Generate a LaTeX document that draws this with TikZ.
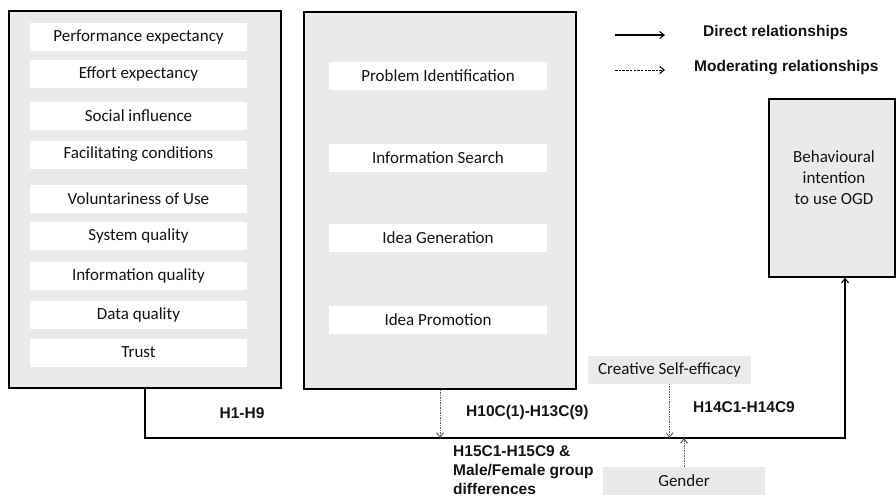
\documentclass[tikz,border=0pt]{standalone}
\usepackage{fontspec}
\setmainfont{Carlito}
\newfontfamily\arialb{Liberation Sans}[BoldFont={* Bold}]
\usetikzlibrary{arrows.meta}
\definecolor{boxgray}{HTML}{EAEAEA}
\definecolor{txt}{HTML}{141418}
\definecolor{dotc}{HTML}{606060}
\begin{document}
\begin{tikzpicture}[x=1pt,y=-1pt,
  >={Straight Barb[length=4.5pt,width=7pt]},
  outer/.style={draw=black,line width=1.1pt,fill=boxgray,minimum width=272pt,minimum height=377pt,inner sep=0pt},
  lbox/.style={fill=white,minimum width=217pt,minimum height=28pt,inner sep=0pt,text=txt,font=\fontsize{17}{20}\selectfont},
  gbox/.style={fill=boxgray,minimum height=28pt,inner sep=0pt,text=txt,font=\fontsize{17}{20}\selectfont},
  hlab/.style={font=\arialb\bfseries\fontsize{15.5}{19}\selectfont,inner sep=0pt,text=txt},
  direct/.style={line width=1.1pt,->},
  moder/.style={dotc,line width=1pt,dash pattern=on 1.5pt off 1pt,->}
]
\useasboundingbox (0,0) rectangle (896,498);
% legend
\coordinate (l1a) at (615,35); \coordinate (l1b) at (665,35);
\coordinate (l2a) at (615,70); \coordinate (l2b) at (665,70);
\draw[direct] (l1a) -- (l1b);
\draw[line width=1pt,dash pattern=on 2.5pt off 1.2pt,->] (l2a) -- (l2b);
\node[hlab,anchor=west] (leg1) at (703,32) {Direct relationships};
\node[hlab,anchor=west] (leg2) at (694,68) {Moderating relationships};
% left box
\node[outer] (lb) at (145,199.5) {};
\node[lbox] (a1) at (138.5,37) {Performance expectancy};
\node[lbox] (a2) at (138.5,73.5) {Effort expectancy};
\node[lbox] (a3) at (138.5,115.5) {Social influence};
\node[lbox] (a4) at (138.5,154.5) {Facilitating conditions};
\node[lbox] (a5) at (138.5,198.5) {Voluntariness of Use};
\node[lbox] (a6) at (138.5,235.5) {System quality};
\node[lbox] (a7) at (138.5,275.5) {Information quality};
\node[lbox] (a8) at (138.5,314.5) {Data quality};
\node[lbox] (a9) at (138.5,352.5) {Trust};
% middle box
\node[outer] (mb) at (440,200.5) {};
\node[lbox,minimum width=218pt] (b1) at (438,76) {Problem Identification};
\node[lbox,minimum width=218pt] (b2) at (438,158) {Information Search};
\node[lbox,minimum width=218pt] (b3) at (438,238) {Idea Generation};
\node[lbox,minimum width=218pt] (b4) at (438,320) {Idea Promotion};
% behavioural intention
\node[draw=black,line width=1.1pt,fill=boxgray,minimum width=126pt,minimum height=178pt,inner sep=0pt] (bi) at (832,188) {};
\node[align=center,text=txt,font=\fontsize{17}{21}\selectfont,inner sep=0pt] (bit) at (834,178) {Behavioural\\intention\\to use OGD};
% moderators
\node[gbox,minimum width=163pt] (cse) at (669.5,369.5) {Creative Self-efficacy};
\node[gbox,minimum width=162pt] (gen) at (684,481) {Gender};
% connectors
\coordinate (jL) at (145,438);
\coordinate (jR) at (845,438);
\draw[direct] (lb.south) -- (jL) -- (jR) -- (jR |- bi.south);
\draw[moder] (mb.south) -- (mb.south |- jL);
\draw[moder] (cse.south) -- (cse.south |- jL);
\draw[moder] (gen.north) -- (gen.north |- jL);
% labels
\node[hlab] (h1) at (242,413) {H1-H9};
\node[hlab,anchor=west] (h10) at (466,412) {H10C(1)-H13C(9)};
\node[hlab,anchor=west] (h14) at (693,407) {H14C1-H14C9};
\node[hlab,anchor=north west,align=left] (h15) at (453,445) {H15C1-H15C9 \&\\Male/Female group\\differences};
\end{tikzpicture}
\end{document}
